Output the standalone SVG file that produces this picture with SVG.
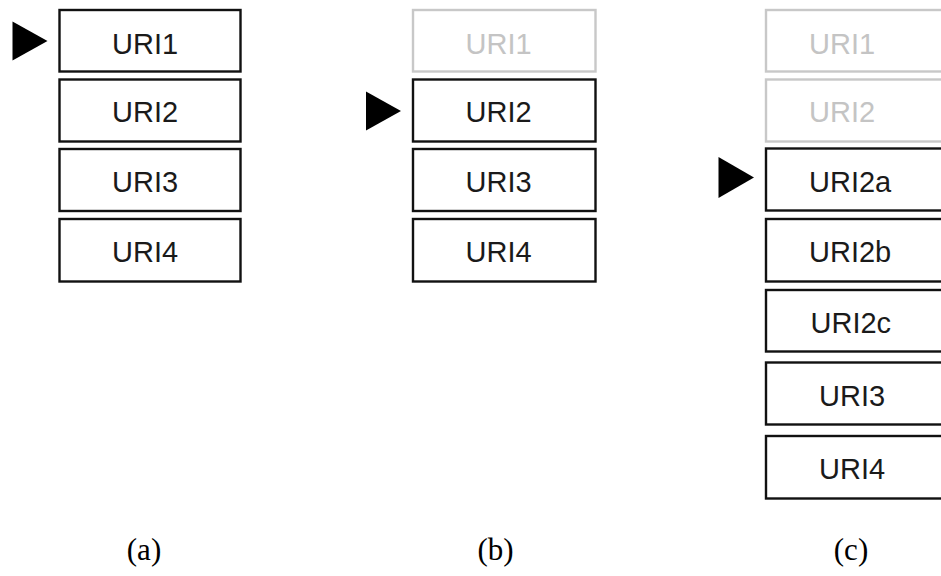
<svg xmlns="http://www.w3.org/2000/svg" width="941" height="576" viewBox="0 0 941 576">
<style>
  .box rect { fill: #ffffff; stroke: #111111; stroke-width: 2.4; }
  .box text { font-family: "Liberation Sans", Arial, sans-serif; font-size: 29px; fill: #1a1a1a; }
  .dim rect { stroke: #c8c8c8; }
  .dim text { fill: #c4c4c4; }
  .ptr { fill: #000000; }
  .cap { font-family: "Liberation Serif", "Times New Roman", serif; font-size: 31px; fill: #000000; text-anchor: middle; }
</style>
<rect width="941" height="576" fill="#ffffff"/>

<!-- Panel (a) -->
<g id="a-uri1" class="box"><rect x="59.5" y="10" width="181" height="61.5"/><text x="112" y="53.5">URI1</text></g>
<g id="a-uri2" class="box"><rect x="59.5" y="79.5" width="181" height="62"/><text x="112" y="122">URI2</text></g>
<g id="a-uri3" class="box"><rect x="59.5" y="149" width="181" height="62"/><text x="112" y="192">URI3</text></g>
<g id="a-uri4" class="box"><rect x="59.5" y="219" width="181" height="62.5"/><text x="112" y="262">URI4</text></g>
<g id="a-pointer"><polygon class="ptr" points="12.5,21.5 47.5,41 12.5,60.5"/></g>
<text class="cap" x="144" y="560">(a)</text>

<!-- Panel (b) -->
<g id="b-uri1" class="box dim"><rect x="413" y="10" width="182.5" height="61.5"/><text x="465.5" y="53.5">URI1</text></g>
<g id="b-uri2" class="box"><rect x="413" y="79.5" width="182.5" height="62"/><text x="465.5" y="122">URI2</text></g>
<g id="b-uri3" class="box"><rect x="413" y="149" width="182.5" height="62"/><text x="465.5" y="192">URI3</text></g>
<g id="b-uri4" class="box"><rect x="413" y="219" width="182.5" height="62.5"/><text x="465.5" y="262">URI4</text></g>
<g id="b-pointer"><polygon class="ptr" points="366,91.5 401,111 366,130.5"/></g>
<text class="cap" x="495.5" y="560">(b)</text>

<!-- Panel (c) -->
<g id="c-uri1" class="box dim"><rect x="766" y="10" width="190" height="61.5"/><text x="809" y="53.5">URI1</text></g>
<g id="c-uri2" class="box dim"><rect x="766" y="79.5" width="190" height="62"/><text x="809" y="122">URI2</text></g>
<g id="c-uri2a" class="box"><rect x="766" y="148.5" width="190" height="62"/><text x="809" y="191.5">URI2a</text></g>
<g id="c-uri2b" class="box"><rect x="766" y="219" width="190" height="62.5"/><text x="809" y="262">URI2b</text></g>
<g id="c-uri2c" class="box"><rect x="766" y="290" width="190" height="61.5"/><text x="810.5" y="333">URI2c</text></g>
<g id="c-uri3" class="box"><rect x="766" y="362.5" width="190" height="62"/><text x="819" y="405.5">URI3</text></g>
<g id="c-uri4" class="box"><rect x="766" y="436" width="190" height="62.5"/><text x="819" y="479">URI4</text></g>
<g id="c-pointer"><polygon class="ptr" points="718.5,157 754,177.5 718.5,198"/></g>
<text class="cap" x="851" y="560">(c)</text>

<g id="connectors"/>
</svg>
